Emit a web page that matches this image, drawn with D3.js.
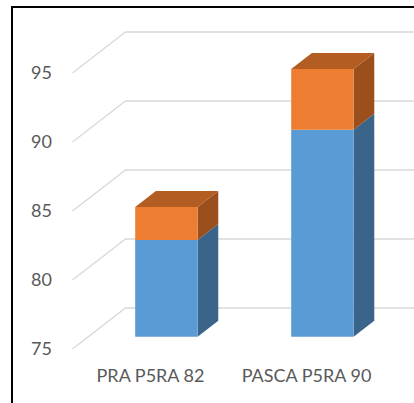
<!DOCTYPE html>
<html>
<head>
<meta charset="utf-8">
<script src="https://cdn.jsdelivr.net/npm/d3@7"></script>
<style>
html,body{margin:0;padding:0;background:#fff;}
svg{display:block;}
</style>
</head>
<body>
<script>
const categories = ["PRA P5RA 82", "PASCA P5RA 90"];
const seriesBlue = [82, 90];
const seriesOrange = [2.4, 4.4];
const yTicks = [75, 80, 85, 90, 95];

const W = 414, H = 403;
const svg = d3.select("body").append("svg").attr("width", W).attr("height", H);

const depth = {dx: 53, dy: -41};
const y = d3.scaleLinear().domain([75, 95]).range([349, 73]);
const x = d3.scaleBand().domain(categories).range([72.5, 384.5]).paddingInner(0.6).paddingOuter(0.3);
const z0 = 0.3, z1 = 0.69;
const base = 75;

function P(px, v, z) { return [px + z * depth.dx, y(v) + z * depth.dy]; }
function poly(pts) { return pts.map(p => p.join(",")).join(" "); }

// border
svg.append("path").attr("d", `M12,${H+5} L12,7 L${W+5},7`).attr("fill","none").attr("stroke","#000").attr("stroke-width",2);

// gridlines
const grid = svg.append("g");
yTicks.forEach(t => {
  const f = P(x.range()[0], t, 0), b = P(x.range()[0], t, 1);
  grid.append("polyline").attr("points", poly([f, b, [W + 10, b[1]]]))
    .attr("fill","none").attr("stroke","#d9d9d9").attr("stroke-width",1.3);
});

// y labels
svg.append("g").selectAll("text").data(yTicks).join("text")
  .attr("x", 52).attr("y", d => y(d)).attr("dy","0.35em")
  .attr("text-anchor","end").attr("fill","#595959")
  .style("font-family","Lato, 'Open Sans', sans-serif").style("font-size","18px")
  .text(d => d);

// bars
const colors = {
  blue: {front:"#5b9bd5", side:"#3a6489", top:"#4a7fb0"},
  orange: {front:"#ed7d31", side:"#9b4f1c", top:"#b45d22"}
};
const bars = svg.append("g");
categories.forEach((c, i) => {
  const x0 = x(c), x1 = x(c) + x.bandwidth();
  const segs = [
    {lo: base, hi: seriesBlue[i], col: colors.blue},
    {lo: seriesBlue[i], hi: seriesBlue[i] + seriesOrange[i], col: colors.orange}
  ];
  segs.forEach((s, k) => {
    // side
    bars.append("polygon").attr("points", poly([P(x1,s.lo,z0),P(x1,s.lo,z1),P(x1,s.hi,z1),P(x1,s.hi,z0)])).attr("fill", s.col.side);
    // front
    bars.append("polygon").attr("points", poly([P(x0,s.lo,z0),P(x1,s.lo,z0),P(x1,s.hi,z0),P(x0,s.hi,z0)])).attr("fill", s.col.front);
    if (k === segs.length - 1) {
      bars.append("polygon").attr("points", poly([P(x0,s.hi,z0),P(x1,s.hi,z0),P(x1,s.hi,z1),P(x0,s.hi,z1)])).attr("fill", s.col.top);
    }
  });
});

// category labels
svg.append("g").selectAll("text").data(categories).join("text")
  .attr("x", d => x(d) + x.bandwidth()/2).attr("y", 382)
  .attr("text-anchor","middle").attr("fill","#595959")
  .style("font-family","Lato, 'Open Sans', sans-serif").style("font-size","18px")
  .text(d => d);
</script>
</body>
</html>
